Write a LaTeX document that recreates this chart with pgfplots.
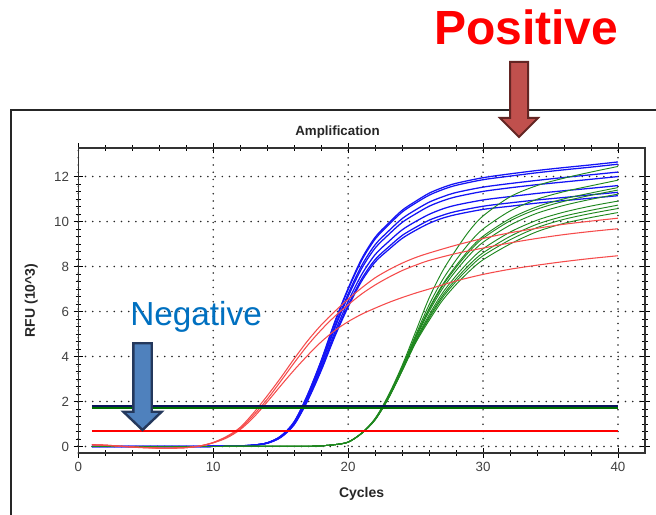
\documentclass[border=0pt]{standalone}
\usepackage{fontspec}
\setmainfont{Liberation Sans}
\usepackage{pgfplots}
\usepackage{pgfplotstable}
\pgfplotsset{compat=1.18}
\definecolor{cblue}{RGB}{20,20,245}
\definecolor{cgreen}{RGB}{30,135,30}
\definecolor{cred}{RGB}{245,75,75}
\definecolor{navy}{RGB}{10,20,90}
\definecolor{thgreen}{RGB}{0,110,0}
\definecolor{thred}{RGB}{255,0,0}
\definecolor{negblue}{RGB}{0,112,192}
\definecolor{arrblue}{RGB}{79,129,189}
\definecolor{arrblueedge}{RGB}{36,56,92}
\definecolor{arrred}{RGB}{192,80,77}
\definecolor{arrrededge}{RGB}{99,37,35}

\pgfplotstableread{
x  b1 b2 b3 b4 b5 b6 b7
1  0 0 0 0 0 0 0
4  0 0 0 0 0 0 0
8  0 0 0 0 0 0 0
11 0.01 0.01 0.01 0.01 0.01 0.01 0.01
12 0.03 0.03 0.02 0.02 0.02 0.02 0.02
13 0.06 0.06 0.06 0.06 0.06 0.06 0.06
14 0.16 0.16 0.16 0.16 0.15 0.15 0.14
15 0.46 0.45 0.44 0.43 0.42 0.41 0.40
16 1.10 1.09 1.06 1.04 1.01 0.98 0.97
17 2.31 2.30 2.23 2.20 2.12 2.07 2.04
18 3.82 3.79 3.68 3.62 3.50 3.41 3.37
19 5.53 5.48 5.33 5.24 5.07 4.94 4.87
20 7.03 6.98 6.78 6.67 6.45 6.28 6.20
21 8.34 8.27 8.04 7.91 7.64 7.45 7.35
22 9.30 9.22 8.97 8.82 8.53 8.31 8.20
23 9.93 9.85 9.58 9.42 9.11 8.87 8.75
24 10.50 10.42 10.13 9.96 9.63 9.38 9.25
25 10.90 10.82 10.52 10.34 10.00 9.74 9.61
26 11.26 11.17 10.86 10.68 10.32 10.06 9.92
27 11.51 11.42 11.10 10.92 10.56 10.28 10.15
28 11.70 11.61 11.29 11.10 10.73 10.45 10.31
30 11.95 11.86 11.53 11.34 10.96 10.68 10.54
32 12.12 12.02 11.69 11.50 11.11 10.83 10.68
34 12.27 12.17 11.83 11.64 11.25 10.96 10.82
36 12.40 12.30 11.96 11.76 11.37 11.07 10.93
38 12.52 12.42 12.08 11.88 11.48 11.19 11.04
40 12.65 12.55 12.20 12.00 11.60 11.30 11.15
}\bluetab

\pgfplotstableread{
x  g1 g2 g3 g4 g5 g6 g7 g8 g9
1  0 0 0 0 0 0 0 0 0
10 0 0 0 0 0 0 0 0 0
17 0.01 0.01 0.01 0.01 0.01 0.01 0.01 0.01 0.01
18 0.03 0.03 0.03 0.03 0.03 0.03 0.03 0.03 0.03
19 0.08 0.08 0.08 0.08 0.08 0.08 0.08 0.08 0.08
20 0.20 0.20 0.20 0.20 0.19 0.19 0.19 0.19 0.19
21 0.60 0.59 0.59 0.59 0.59 0.59 0.58 0.58 0.58
22 1.25 1.23 1.22 1.21 1.21 1.20 1.19 1.19 1.18
23 2.30 2.26 2.23 2.22 2.21 2.19 2.17 2.16 2.15
24 3.60 3.53 3.49 3.47 3.45 3.41 3.39 3.37 3.35
25 5.10 4.95 4.87 4.85 4.80 4.73 4.68 4.65 4.60
26 6.60 6.30 6.14 6.09 6.00 5.85 5.76 5.69 5.60
27 7.80 7.41 7.20 7.14 7.02 6.83 6.71 6.62 6.50
28 8.75 8.29 8.04 7.96 7.82 7.59 7.45 7.34 7.20
29 9.60 9.06 8.77 8.68 8.52 8.25 8.09 7.96 7.80
30 10.25 9.67 9.35 9.26 9.08 8.79 8.61 8.48 8.30
32 11.10 10.47 10.13 10.03 9.84 9.53 9.34 9.19 9.00
34 11.60 10.99 10.66 10.55 10.37 10.06 9.88 9.73 9.55
36 11.93 11.33 11.01 10.90 10.72 10.42 10.24 10.10 9.92
38 12.20 11.59 11.27 11.17 10.99 10.69 10.50 10.36 10.18
40 12.45 11.84 11.51 11.40 11.22 10.91 10.73 10.58 10.40
}\greentab

\pgfplotstableread{
x  r1 r2 r3
1  0.08 0.08 0.07
2  0.06 0.06 0.05
3  0.02 0.02 0.01
4  -0.02 -0.02 -0.03
5  -0.05 -0.05 -0.06
6  -0.07 -0.07 -0.07
7  -0.07 -0.07 -0.07
8  -0.05 -0.05 -0.05
9  0.02 0.02 0.02
10 0.18 0.17 0.16
11 0.45 0.42 0.38
12 0.85 0.80 0.75
13 1.50 1.40 1.30
14 2.25 2.10 1.98
15 3.05 2.90 2.70
16 3.90 3.72 3.40
17 4.70 4.50 4.05
18 5.40 5.18 4.65
19 6.00 5.78 5.15
20 6.55 6.30 5.55
21 7.05 6.78 5.88
22 7.50 7.18 6.15
23 7.85 7.52 6.40
24 8.15 7.82 6.62
25 8.40 8.06 6.82
26 8.60 8.27 7.00
28 8.95 8.58 7.36
30 9.25 8.82 7.65
32 9.50 9.05 7.88
34 9.70 9.25 8.06
36 9.88 9.42 8.22
38 10.02 9.56 8.36
40 10.15 9.68 8.48
}\redtab

\begin{document}
\begin{tikzpicture}
\begin{scope}[x=0.75pt,y=0.75pt]
\useasboundingbox (0,0) rectangle (656,514);
\draw[line width=1.4pt, black!85] (11,-10) -- (11,404) -- (670,404);
\node[font=\bfseries\fontsize{10}{12}\selectfont, text=black!85] at (337.5,382) {Amplification};
\end{scope}
\begin{axis}[
  at={(58.725pt,45.75pt)}, anchor=south west,
  scale only axis, width=425pt, height=228.75pt,
  xmin=0, xmax=42, ymin=-0.29, ymax=13.27,
  xtick={0,10,20,30,40}, ytick={0,2,...,12},
  minor x tick num=4, minor y tick num=5,
  tick align=center, major tick length=7pt, minor tick length=4pt,
  tick style={black, line width=0.7pt},
  grid=major,
  major grid style={black!85, line width=1.3pt, dash pattern=on 0pt off 5.4pt, line cap=round},
  axis line style={black!80, line width=1pt},
  ticklabel style={font=\fontsize{10}{12}\selectfont, text=black!75},
  /pgf/number format/assume math mode=true,
  xlabel={Cycles},
  xlabel style={font=\bfseries\fontsize{10.5}{12}\selectfont, text=black!85, at={(axis description cs:0.5,-0.1344)}, anchor=center},
  ylabel={RFU (10\textasciicircum 3)},
  ylabel style={font=\bfseries\fontsize{10.5}{12}\selectfont, text=black!85, at={(axis description cs:-0.083,0.5)}, anchor=center},
]
\pgfplotsinvokeforeach{b1,b2,b3,b4,b5,b6,b7}{
  \addplot[cblue, line width=0.95pt, smooth, no markers] table[x=x,y=#1]{\bluetab};
}
\pgfplotsinvokeforeach{g1,g2,g3,g4,g5,g6,g7,g8,g9}{
  \addplot[cgreen, line width=0.7pt, smooth, no markers] table[x=x,y=#1]{\greentab};
}
\pgfplotsinvokeforeach{r1,r2,r3}{
  \addplot[cred, line width=0.8pt, smooth, no markers] table[x=x,y=#1]{\redtab};
}
\addplot[thgreen, line width=1.2pt, no markers] coordinates {(1,1.72) (40,1.72)};
\addplot[navy, line width=1.3pt, no markers] coordinates {(1,1.80) (40,1.80)};
\addplot[thred, line width=1.3pt, no markers] coordinates {(1,0.70) (40,0.70)};
\end{axis}
\begin{scope}[x=0.75pt,y=0.75pt]
\node[anchor=base west, inner sep=0pt, text=negblue, font=\fontsize{25}{30}\selectfont] at (130,188) {Negative};
\node[anchor=base west, inner sep=0pt, text=thred, font=\bfseries\fontsize{36}{40}\selectfont] at (434,469) {Positive};
\draw[line width=1.8pt, arrblueedge, fill=arrblue, line join=miter]
  (133.3,170.7) -- (151.7,170.7) -- (151.7,102.3) -- (161.7,102.3) -- (142.5,84) -- (123.3,102.3) -- (133.3,102.3) -- cycle;
\draw[line width=1.5pt, arrrededge, fill=arrred, line join=miter]
  (510,452) -- (528,452) -- (528,396) -- (538,396) -- (519,377) -- (500,396) -- (510,396) -- cycle;
\end{scope}
\end{tikzpicture}
\end{document}
